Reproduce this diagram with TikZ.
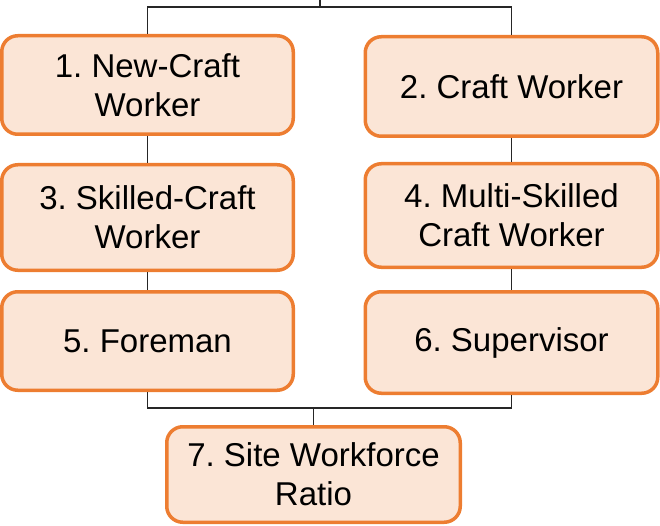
\documentclass[tikz,border=0pt]{standalone}
\usepackage{fontspec}
\setmainfont{Liberation Sans}
\frenchspacing
\definecolor{boxline}{HTML}{ED7D31}
\definecolor{boxfill}{HTML}{FBE5D6}
\begin{document}
\begin{tikzpicture}[x=1pt,y=-1pt,
  stepbox/.style={draw=boxline, fill=boxfill, line width=3.5pt, rounded corners=16pt,
    inner sep=0pt, align=center, text=black,
    font=\fontsize{33}{39}\selectfont},
  link/.style={draw=black!85, line width=1.8pt}]
\useasboundingbox (0,0) rectangle (660,526);
\node[stepbox, minimum width=291.5pt, minimum height=98.5pt] (b1) at (147.5,85) {1. New-Craft\\Worker};
\node[stepbox, minimum width=292.5pt, minimum height=99.5pt] (b2) at (511.5,86.5) {2. Craft Worker};
\node[stepbox, minimum width=291.5pt, minimum height=105.5pt] (b3) at (147.5,217.5) {3. Skilled-Craft\\Worker};
\node[stepbox, minimum width=292.5pt, minimum height=103.5pt] (b4) at (511.5,215.5) {4. Multi-Skilled\\Craft Worker};
\node[stepbox, minimum width=291.5pt, minimum height=98.5pt] (b5) at (147.5,341) {5. Foreman};
\node[stepbox, minimum width=292.5pt, minimum height=101.5pt] (b6) at (511.5,342.5) {6. Supervisor};
\node[stepbox, minimum width=293.5pt, minimum height=95.5pt] (b7) at (313.5,474.5) {7. Site Workforce\\Ratio};
\coordinate (top) at (320,0);
\coordinate (hy) at (320,7);
\coordinate (hb) at (313.5,408);
\draw[link] (top) -- (hy);
\draw[link] (b1.north) |- (hy) -| (b2.north);
\draw[link] (b1.south) -- (b3.north);
\draw[link] (b3.south) -- (b5.north);
\draw[link] (b2.south) -- (b4.north);
\draw[link] (b4.south) -- (b6.north);
\draw[link] (b5.south) |- (hb) -| (b6.south);
\draw[link] (hb) -- (b7.north);
\end{tikzpicture}
\end{document}
